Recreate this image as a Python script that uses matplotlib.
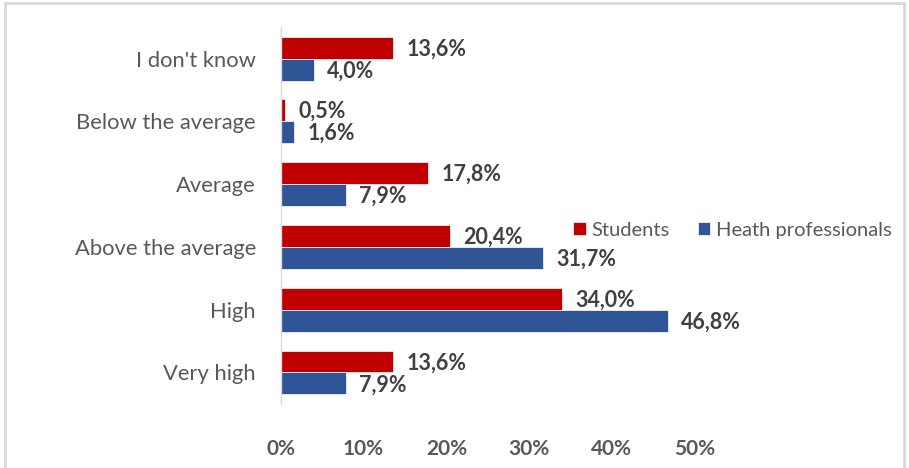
import matplotlib.pyplot as plt
from matplotlib.patches import Rectangle
from matplotlib.ticker import FuncFormatter
import numpy as np

categories = ["I don't know", "Below the average", "Average",
              "Above the average", "High", "Very high"]
students = [13.6, 0.5, 17.8, 20.4, 34.0, 13.6]
health = [4.0, 1.6, 7.9, 31.7, 46.8, 7.9]
series_names = ["Students", "Heath professionals"]

RED = "#C00000"
BLUE = "#2F5597"
GREY = "#595959"
DARK = "#404040"

plt.rcParams['font.family'] = ['Lato', 'DejaVu Sans']

fig = plt.figure(figsize=(9.09, 4.68), dpi=100)
ax = fig.add_axes([0.309, 0.137, 0.455, 0.805])

y = np.arange(len(categories))
h = 0.35
bars_s = ax.barh(y - h / 2, students, height=h, color=RED,
                 edgecolor="white", linewidth=0.5, label=series_names[0])
bars_h = ax.barh(y + h / 2, health, height=h, color=BLUE,
                 edgecolor="white", linewidth=0.5, label=series_names[1])

# value labels, comma as decimal separator
for bars, vals in ((bars_s, students), (bars_h, health)):
    for b, v in zip(bars, vals):
        ax.text(v + 1.6, b.get_y() + b.get_height() / 2 + 0.02,
                f"{v:.1f}%".replace(".", ","), va="center", ha="left",
                fontsize=15.5, fontweight="bold", color=DARK)

ax.set_ylim(len(categories) - 0.5, -0.5)
ax.set_xlim(0, 50)
ax.set_yticks(y)
ax.set_yticklabels(categories, fontsize=15.8, color=GREY)
ax.set_xticks(np.arange(0, 51, 10))
ax.xaxis.set_major_formatter(FuncFormatter(lambda v, p: f"{v:.0f}%"))
ax.tick_params(axis="x", length=0, pad=25, labelsize=15, labelcolor=GREY)
ax.tick_params(axis="y", length=0, pad=18)
for lab in ax.get_xticklabels():
    lab.set_fontweight("bold")

for side in ("top", "right", "bottom"):
    ax.spines[side].set_visible(False)
ax.spines["left"].set_color("#D9D9D9")
ax.spines["left"].set_linewidth(1.0)

leg = fig.legend(loc="center", bbox_to_anchor=(0.806, 0.508), ncol=2,
                 frameon=False, fontsize=14.5, handlelength=0.6, handleheight=0.6,
                 handletextpad=0.3, columnspacing=1.4)
for t in leg.get_texts():
    t.set_color(GREY)

# chart area border
fig.patches.append(Rectangle((5 / 909, -0.05), 899 / 909, 1.05 - 3 / 468,
                             transform=fig.transFigure, fill=False,
                             edgecolor="#D9D9D9", linewidth=2))

fig.savefig("out.png", dpi=100)
